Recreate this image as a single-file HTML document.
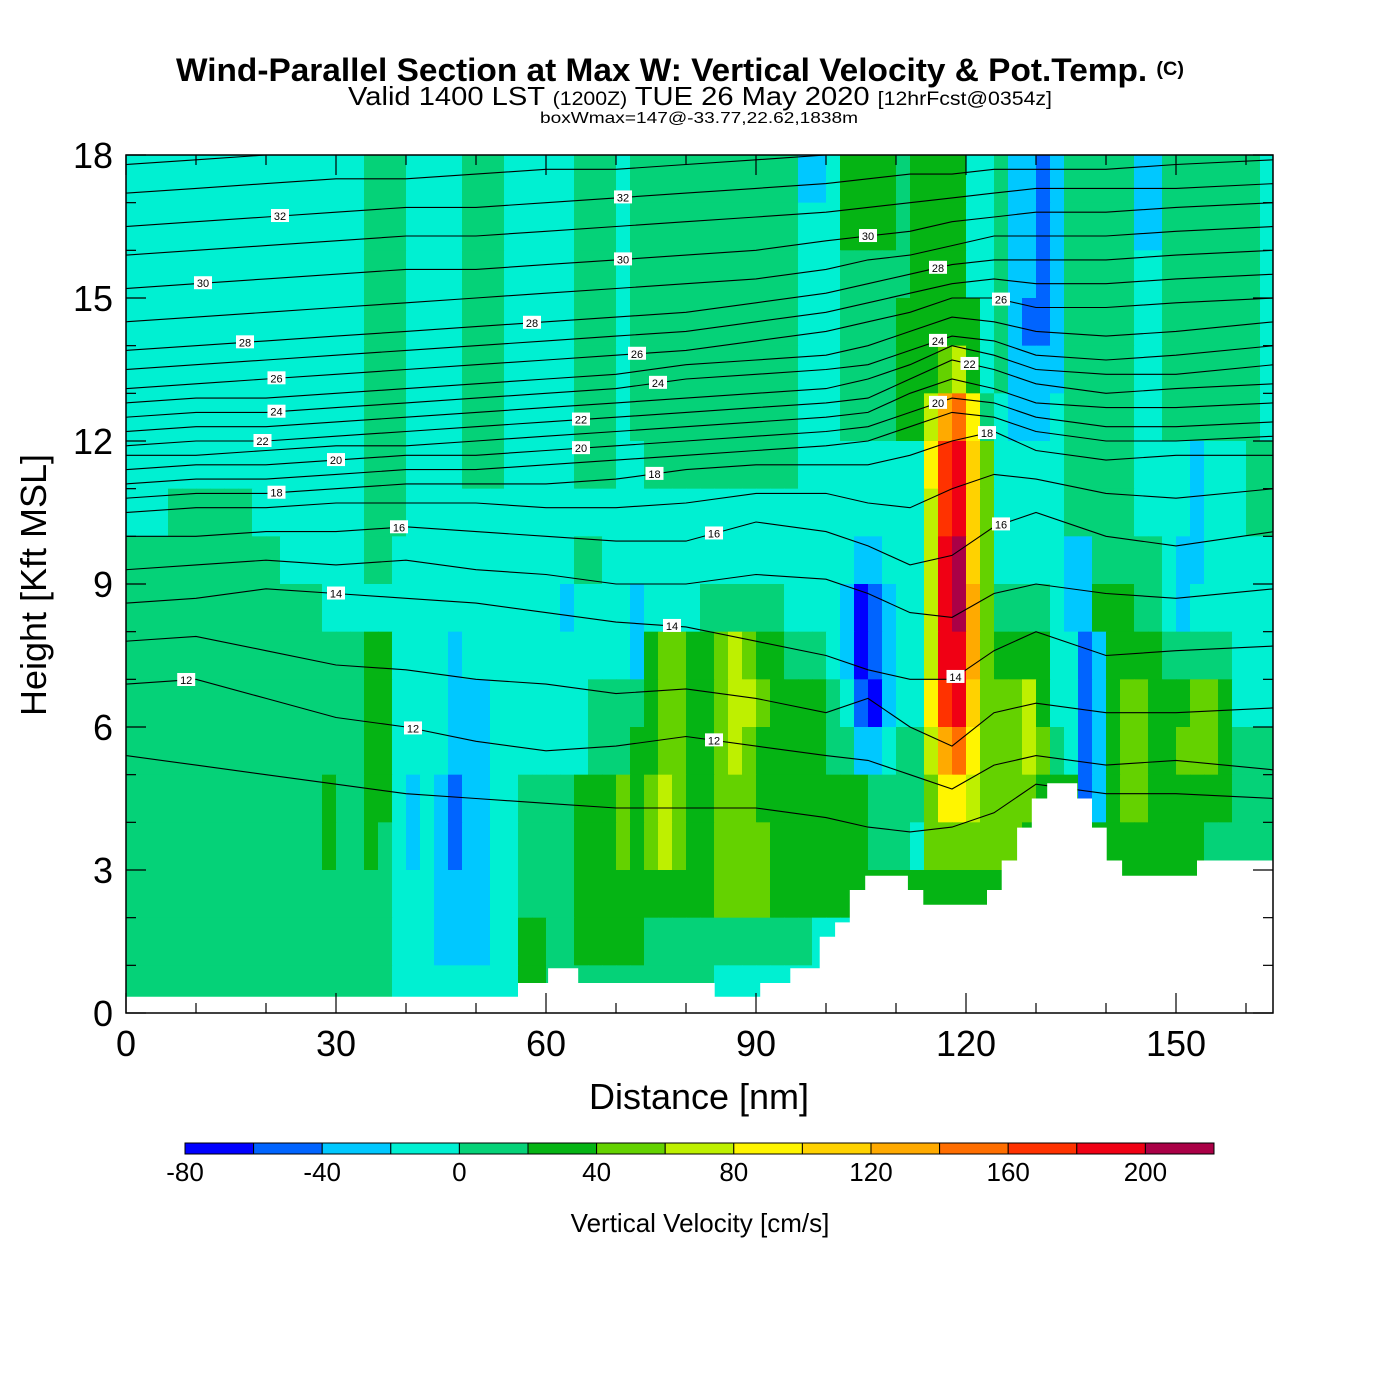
<!DOCTYPE html>
<html><head><meta charset="utf-8"><title>Wind-Parallel Section</title>
<style>
html,body{margin:0;padding:0;background:#fff;}
svg{display:block;font-family:"Liberation Sans",Arial,sans-serif;}
</style></head>
<body>
<svg id="chart" width="1400" height="1400" viewBox="0 0 1400 1400" xmlns="http://www.w3.org/2000/svg">
<rect x="0" y="0" width="1400" height="1400" fill="#fff"/>
<g>
<text x="176" y="81" font-size="32" font-weight="bold" textLength="1008" lengthAdjust="spacingAndGlyphs">Wind-Parallel Section at Max W: Vertical Velocity &amp; Pot.Temp. <tspan font-size="19" dy="-6">(C)</tspan></text>
<text x="348" y="105" font-size="26" textLength="704" lengthAdjust="spacingAndGlyphs">Valid 1400 LST <tspan font-size="19">(1200Z)</tspan> TUE 26 May 2020 <tspan font-size="19">[12hrFcst@0354z]</tspan></text>
<text x="540" y="123" font-size="16" textLength="318" lengthAdjust="spacingAndGlyphs">boxWmax=147@-33.77,22.62,1838m</text>
</g>
<defs><clipPath id="plotclip"><rect x="126" y="155" width="1147" height="858"/></clipPath></defs>
<g id="heat" clip-path="url(#plotclip)"></g>
<g id="isen" clip-path="url(#plotclip)"></g>
<g id="terrain"></g>
<g id="labels" clip-path="url(#plotclip)"></g>
<g id="axes"></g>
<g id="cbar"></g>
</svg>
<script>
// ---- data ----
var levelBounds = [-80,-60,-40,-20,0,20,40,60,80,100,120,140,160,180,200,220];
var levelColors = ["#0000ff","#0064ff","#00c8ff","#00f0d2","#05d278","#05b414","#64d200","#bef000","#fff500","#ffd200","#ffaa00","#ff6e00","#ff3200","#f00014","#aa0046"];
var colorbarTicks = [-80,-40,0,40,80,120,160,200];
var xTicks = [0,30,60,90,120,150];
var yTicks = [0,3,6,9,12,15,18];
// vertical velocity class per 2 nm column x 1 kft row, top row (17-18 kft) first; code = level index
var gridRows = [
"3*17 4*3 3*4 4*3 3*5 4*3 3*1 4*12 2*2 3*1 5*4 4*1 5*4 3*2 4*1 2*2 1*1 2*1 4*5 2*2 4*7 3*1",
"3*17 4*3 3*4 4*3 3*5 4*3 3*1 4*12 3*3 5*4 4*1 5*4 3*2 4*1 2*2 1*1 2*1 4*5 2*2 4*7 3*1",
"3*17 4*3 3*4 4*3 3*5 4*3 3*1 4*12 3*3 4*4 4*1 5*4 3*2 4*1 2*2 1*1 2*1 4*5 3*2 4*7 3*1",
"3*17 4*3 3*4 4*3 3*5 4*3 3*1 4*12 3*3 4*4 5*6 3*1 4*1 2*1 1*2 2*1 4*5 3*2 4*7 3*1",
"3*17 4*3 3*4 4*3 3*5 4*3 3*1 4*12 3*3 4*4 5*3 6*1 7*1 5*1 3*1 4*1 2*4 4*5 3*2 4*7 3*1",
"3*17 4*3 3*4 4*3 3*5 4*3 3*1 4*12 3*3 4*4 5*2 7*1 A*1 B*1 8*1 4*1 3*1 2*3 3*1 4*5 3*2 4*7 3*1",
"3*17 4*3 3*4 4*3 3*5 4*3 3*2 4*11 3*9 8*1 C*1 D*1 9*1 6*1 3*5 4*5 3*4 2*1 3*3 4*2",
"3*3 4*6 3*8 4*3 3*37 7*1 C*1 D*1 9*1 6*1 3*5 4*5 3*4 2*1 3*3 4*2",
"4*11 3*6 4*2 3*13 4*2 3*18 2*2 3*3 7*1 D*1 E*1 9*1 6*1 3*5 2*2 4*5 3*1 2*2 3*5",
"4*14 3*17 2*1 3*4 2*1 3*4 4*6 3*4 2*1 0*1 1*1 2*1 3*2 7*1 D*1 E*1 A*1 6*1 4*1 4*3 3*1 2*2 5*3 4*2 3*1 2*1 3*6",
"4*17 5*2 3*4 2*1 3*12 2*1 5*1 6*2 5*2 6*1 7*1 6*1 5*2 4*3 3*1 2*1 0*1 1*1 2*1 3*2 7*1 D*1 D*1 A*1 6*1 5*4 3*2 1*1 2*1 5*4 4*5 3*3",
"4*17 5*2 3*4 2*3 3*7 4*4 5*1 6*2 5*2 6*1 7*2 6*1 5*4 4*1 3*1 1*1 0*1 2*1 3*2 8*1 C*1 D*1 9*1 6*3 7*1 5*1 3*2 1*1 2*1 5*1 6*2 5*3 6*2 5*1 3*3",
"4*17 5*2 3*4 2*3 3*7 4*3 5*1 5*1 6*2 5*2 6*1 7*1 6*1 5*1 5*4 4*2 2*2 3*1 4*2 7*1 A*1 B*1 8*1 6*3 7*1 6*1 4*1 3*1 1*1 2*1 5*1 6*2 5*2 6*3 5*1 4*3",
"4*14 5*1 4*2 5*2 3*1 2*1 3*1 2*1 1*1 2*2 3*2 4*4 5*3 6*1 5*1 6*1 7*1 6*1 5*2 6*3 5*8 4*4 6*1 8*2 7*1 6*4 5*3 1*1 2*1 5*1 6*2 5*6 4*3",
"4*14 5*1 4*2 5*1 4*1 3*1 2*1 3*1 2*1 1*1 2*2 3*2 4*4 5*3 6*1 5*1 6*1 7*1 6*1 5*2 6*4 5*7 4*3 3*1 6*7 5*13 4*5",
"4*19 3*3 2*4 3*2 4*4 5*10 6*4 5*36",
"4*19 3*3 2*4 3*2 5*2 4*2 5*5 4*9 4*3 3*3 4*30",
"4*19 3*9 5*2 4*12 3*40"
];
var colWidthNm = 2;
// terrain steps (nm start, nm end, kft)
var terrainStart = [0,56,60.3,64.6,84.1,90.6,94.9,99.1,101.3,103.4,105.6,111.7,113.9,123,125.1,127.3,129.4,131.6,135.9,138,140.1,142.3,153];
var terrainEnd   = [56,60.3,64.6,84.1,90.6,94.9,99.1,101.3,103.4,105.6,111.7,113.9,123,125.1,127.3,129.4,131.6,135.9,138,140.1,142.3,153,164];
var terrainH     = [0.34,0.63,0.94,0.63,0.34,0.63,0.94,1.6,1.9,2.58,2.88,2.58,2.27,2.58,3.2,3.89,4.5,4.82,4.5,3.89,3.2,2.88,3.2];
// isentropes: heights (kft) at the node distances
var thetaNodesX = [0,10,20,30,40,50,60,70,80,90,100,106,112,118,124,130,140,150,164];
var thetaValues = [11,12,13,14,15,16,17,18,19,20,21,22,23,24,25,26,27,28,29,30,31,32,33,34];
var th11=[5.4,5.2,5.0,4.8,4.6,4.5,4.4,4.3,4.3,4.3,4.1,3.9,3.8,3.9,4.2,4.8,4.6,4.6,4.5];
var th12=[6.9,7.0,6.6,6.2,6.0,5.7,5.5,5.6,5.8,5.6,5.4,5.3,5.0,4.7,5.2,5.4,5.2,5.3,5.1];
var th13=[7.8,7.9,7.6,7.3,7.2,7.0,6.9,6.7,6.8,6.6,6.3,6.6,6.0,5.6,6.3,6.5,6.3,6.3,6.4];
var th14=[8.6,8.7,8.9,8.8,8.7,8.6,8.4,8.2,8.1,7.8,7.5,7.2,7.0,7.0,7.6,8.0,7.5,7.6,7.7];
var th15=[9.3,9.4,9.5,9.4,9.5,9.3,9.2,9.0,9.0,9.2,9.1,8.8,8.4,8.3,8.8,9.0,8.8,8.7,8.9];
var th16=[10.0,10.0,10.1,10.1,10.2,10.1,10.0,9.9,9.9,10.3,10.1,9.8,9.4,9.6,10.2,10.5,10.0,9.8,10.1];
var th17=[10.5,10.6,10.6,10.7,10.7,10.7,10.6,10.6,10.7,10.9,10.9,10.7,10.6,11.0,11.3,11.2,10.9,10.8,11.0];
var th18=[10.8,10.9,10.9,11.0,11.1,11.1,11.1,11.2,11.4,11.5,11.5,11.5,11.7,12.0,12.2,11.8,11.6,11.7,11.7];
var th19=[11.1,11.2,11.2,11.3,11.4,11.4,11.5,11.6,11.7,11.8,11.9,12.0,12.3,12.6,12.5,12.2,12.0,12.0,12.1];
var th20=[11.4,11.5,11.5,11.6,11.7,11.7,11.8,11.9,12.0,12.1,12.2,12.3,12.6,12.9,12.8,12.5,12.3,12.3,12.4];
var th21=[11.7,11.7,11.8,11.9,11.9,12.0,12.1,12.2,12.3,12.4,12.5,12.6,13.0,13.3,13.1,12.8,12.7,12.7,12.8];
var th22=[11.9,12.0,12.0,12.1,12.2,12.3,12.4,12.5,12.6,12.7,12.8,12.9,13.3,13.7,13.5,13.2,13.0,13.1,13.2];
var th23=[12.2,12.3,12.3,12.4,12.5,12.6,12.7,12.8,12.9,13.0,13.1,13.3,13.6,14.0,13.8,13.5,13.4,13.4,13.6];
var th24=[12.5,12.6,12.6,12.7,12.8,12.9,13.0,13.1,13.3,13.4,13.5,13.6,13.9,14.2,14.1,13.8,13.7,13.8,14.0];
var th25=[12.8,12.9,12.9,13.0,13.1,13.2,13.3,13.4,13.6,13.7,13.8,14.0,14.3,14.6,14.5,14.3,14.2,14.3,14.5];
var th26=[13.1,13.2,13.3,13.4,13.5,13.6,13.7,13.8,13.9,14.1,14.3,14.5,14.7,15.0,15.0,14.8,14.8,14.9,15.0];
var th27=[13.5,13.6,13.7,13.8,13.9,14.0,14.1,14.2,14.3,14.5,14.7,14.9,15.1,15.3,15.4,15.3,15.3,15.4,15.5];
var th28=[13.9,14.0,14.1,14.2,14.3,14.4,14.5,14.6,14.7,14.9,15.1,15.3,15.5,15.7,15.8,15.8,15.8,15.9,16.0];
var th29=[14.5,14.6,14.7,14.8,14.9,15.0,15.1,15.2,15.3,15.4,15.6,15.8,15.9,16.1,16.3,16.3,16.3,16.4,16.5];
var th30=[15.2,15.3,15.4,15.5,15.6,15.6,15.7,15.8,15.9,16.0,16.2,16.3,16.4,16.6,16.7,16.8,16.8,16.9,17.0];
var th31=[15.9,16.0,16.1,16.2,16.3,16.3,16.4,16.5,16.6,16.7,16.8,16.9,17.0,17.1,17.2,17.3,17.3,17.3,17.4];
var th32=[16.5,16.6,16.7,16.8,16.9,16.9,17.0,17.1,17.2,17.3,17.4,17.5,17.6,17.6,17.7,17.7,17.7,17.8,17.9];
var th33=[17.2,17.3,17.4,17.5,17.5,17.6,17.7,17.7,17.8,17.9,18.0,18.1,18.2,18.2,18.3,18.3,18.3,18.4,18.4];
var th34=[17.8,17.9,18.0,18.1,18.1,18.2,18.3,18.3,18.4,18.5,18.6,18.7,18.8,18.8,18.9,18.9,18.9,19.0,19.0];
var thetaHeights=[th11,th12,th13,th14,th15,th16,th17,th18,th19,th20,th21,th22,th23,th24,th25,th26,th27,th28,th29,th30,th31,th32,th33,th34];
var labelTheta = [32,30,28,26,24,22,20,18,16,14,12,12, 32,30,28,26,24,22,20,18,16,14,12, 30,28,26,24,22,20,18,16,14];
var labelX     = [22,11,17,21.5,21.5,19.5,30,21.5,39,30,8.6,41, 71,71,58,73,76,65,65,75.5,84,78,84, 106,116,125,116,120.5,116,123,125,118.5];

// ---- scales ----
var NS="http://www.w3.org/2000/svg";
function X(nm){return 126 + nm*7;}
function Y(k){return 1013 - k*(858/18);}
function mk(tag, attrs, parent){var e=document.createElementNS(NS,tag);for(var a in attrs)e.setAttribute(a,attrs[a]);parent.appendChild(e);return e;}
function colorFor(v){for(var i=0;i<levelColors.length;i++){if(v<levelBounds[i+1])return levelColors[i];}return levelColors[levelColors.length-1];}
var codes="0123456789ABCDE";

// heatmap
var heat=document.getElementById('heat');
var nRows=gridRows.length;
for(var r=0;r<nRows;r++){
  var toks=gridRows[r].split(' ');var j=0;
  var kLow=nRows-1-r;
  toks.forEach(function(t){
    var p=t.split('*');var lvl=codes.indexOf(p[0]);var n=parseInt(p[1]);
    var val=levelBounds[lvl]+10;
    for(var q=0;q<n;q++){
      var x0=X(j*colWidthNm),x1=X(Math.min((j+1)*colWidthNm,164));
      var c=mk('rect',{x:x0,y:Y(kLow+1),width:(x1-x0+0.6),height:(Y(kLow)-Y(kLow+1)+0.6),fill:colorFor(val)},heat);
      
      
      j++;
    }
  });
}

// isentropes
var isen=document.getElementById('isen');
function interpH(arr,x){for(var i=0;i<thetaNodesX.length-1;i++){if(x<=thetaNodesX[i+1]){var t=(x-thetaNodesX[i])/(thetaNodesX[i+1]-thetaNodesX[i]);return arr[i]+t*(arr[i+1]-arr[i]);}}return arr[arr.length-1];}
thetaHeights.forEach(function(arr,ti){
  var pts=thetaNodesX.map(function(x,i){return X(x).toFixed(1)+','+Y(arr[i]).toFixed(1);}).join(' ');
  var pl=mk('polyline',{points:pts,fill:'none',stroke:'#000','stroke-width':1.1},isen);
  
  
});

// terrain
var ter=document.getElementById('terrain');
var tp='M'+X(0)+','+Y(-0.1);
for(var i=0;i<terrainH.length;i++){tp+=' L'+X(terrainStart[i])+','+Y(terrainH[i])+' L'+X(terrainEnd[i])+','+Y(terrainH[i]);}
tp+=' L'+X(164)+','+Y(-0.1)+' Z';
var tpath=mk('path',{d:tp,fill:'#fff',stroke:'none'},ter);



// contour labels
var lab=document.getElementById('labels');
labelTheta.forEach(function(th,i){
  var arr=thetaHeights[thetaValues.indexOf(th)];
  var cx=X(labelX[i]),cy=Y(interpH(arr,labelX[i]));
  var g=mk('g',{},lab);
  
  
  mk('rect',{x:cx-9,y:cy-7,width:18,height:13,fill:'#fff'},g);
  var t=mk('text',{x:cx,y:cy+4,'text-anchor':'middle','font-size':11},g);t.textContent=String(th);
});

// axes
var ax=document.getElementById('axes');
var frame=mk('rect',{x:126,y:155,width:1147,height:858,fill:'none',stroke:'#000','stroke-width':1.5},ax);


for(var m=0;m<=160;m+=10){
  var big=(m%30===0);var L=big?20:10;
  mk('line',{x1:X(m),y1:1013,x2:X(m),y2:1013-L,stroke:'#000','stroke-width':1.2},ax);
  mk('line',{x1:X(m),y1:155,x2:X(m),y2:155+L,stroke:'#000','stroke-width':1.2},ax);
}
for(var k=0;k<=18;k++){
  var bigy=(k%3===0);var Ly=bigy?20:10;
  mk('line',{x1:126,y1:Y(k),x2:126+Ly,y2:Y(k),stroke:'#000','stroke-width':1.2},ax);
  mk('line',{x1:1273,y1:Y(k),x2:1273-Ly,y2:Y(k),stroke:'#000','stroke-width':1.2},ax);
}
xTicks.forEach(function(v){var t=mk('text',{x:X(v),y:1056,'text-anchor':'middle','font-size':36},ax);t.textContent=String(v);
  
  });
yTicks.forEach(function(v){var t=mk('text',{x:113,y:Y(v)+13,'text-anchor':'end','font-size':36},ax);t.textContent=String(v);
  
  });
var xt=mk('text',{x:699,y:1109,'text-anchor':'middle','font-size':36},ax);xt.textContent='Distance [nm]';


var yt=mk('text',{x:0,y:0,'text-anchor':'middle','font-size':36,transform:'translate(46,585) rotate(-90)'},ax);yt.textContent='Height [Kft MSL]';



// colorbar
var cb=document.getElementById('cbar');
var cbx0=185,cbx1=1214,cbw=(cbx1-cbx0)/levelColors.length;
function CX(v){return cbx0+(v-levelBounds[0])/(levelBounds[levelBounds.length-1]-levelBounds[0])*(cbx1-cbx0);}
levelColors.forEach(function(c,i){var r=mk('rect',{x:CX(levelBounds[i]),y:1143,width:cbw,height:11,fill:c,stroke:'#000','stroke-width':1},cb);
  
  });
colorbarTicks.forEach(function(v){var t=mk('text',{x:CX(v),y:1181,'text-anchor':'middle','font-size':26},cb);t.textContent=String(v);
  
  });
var ct=mk('text',{x:700,y:1232,'text-anchor':'middle','font-size':26},cb);ct.textContent='Vertical Velocity [cm/s]';


</script>
</body></html>
